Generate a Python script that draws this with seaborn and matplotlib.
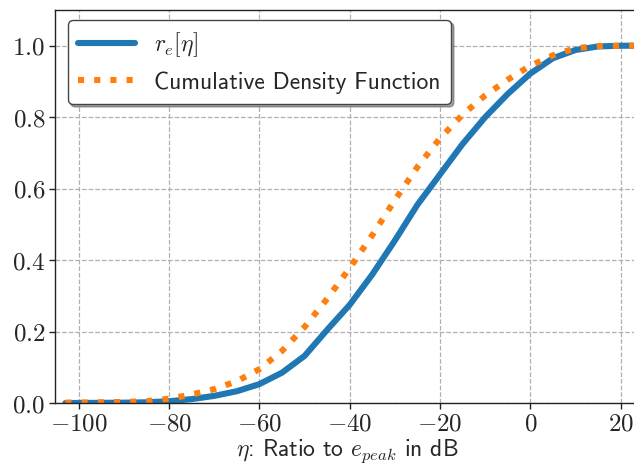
import matplotlib
matplotlib.use("Agg")
import matplotlib.pyplot as plt
from matplotlib.ticker import FuncFormatter
import pandas as pd
import seaborn as sns

# ratio to peak energy in dB
eta_db = [-103, -95, -90, -85, -80, -75, -70, -65, -60, -55, -50, -45, -40,
          -35, -30, -25, -20, -15, -10, -5, 0, 5, 10, 15, 20, 25]
# empirical r_e[eta]
r_e = [0.0, 0.0005, 0.001, 0.002, 0.005, 0.011, 0.02, 0.033, 0.053, 0.085,
       0.132, 0.205, 0.275, 0.36, 0.455, 0.555, 0.64, 0.725, 0.80, 0.865,
       0.922, 0.965, 0.988, 0.998, 1.0, 1.0]
# cumulative density function
cdf = [0.001, 0.002, 0.003, 0.005, 0.012, 0.024, 0.039, 0.061, 0.095, 0.146,
       0.213, 0.292, 0.378, 0.47, 0.568, 0.661, 0.741, 0.807, 0.861, 0.905,
       0.944, 0.973, 0.993, 0.999, 1.0, 1.0]

label_re = r"$r_e[\eta]$"
label_cdf = "Cumulative Density Function"

df = pd.DataFrame({"eta": eta_db, "r_e": r_e, "cdf": cdf})

sns.set_theme(style="whitegrid")
plt.rcParams["font.family"] = ["cmss10", "DejaVu Sans"]
plt.rcParams["mathtext.fontset"] = "cm"
plt.rcParams["axes.unicode_minus"] = True

fig = plt.figure(figsize=(6.34, 4.65), dpi=100)
ax = fig.add_axes([0.0868, 0.1333, 0.9205, 0.8452])

sns.lineplot(data=df, x="eta", y="r_e", ax=ax, color="#1f77b4",
             linewidth=4.4, label=label_re)
sns.lineplot(data=df, x="eta", y="cdf", ax=ax, color="#ff7f0e",
             linewidth=4.4, linestyle=":", label=label_cdf)

ax.set_xlim(-105.3, 24)
ax.set_ylim(0, 1.1)
ax.set_xticks([-100, -80, -60, -40, -20, 0, 20])
ax.set_yticks([0.0, 0.2, 0.4, 0.6, 0.8, 1.0])
# tick labels in Computer Modern, as in a LaTeX-rendered figure
ax.xaxis.set_major_formatter(FuncFormatter(lambda v, p: f"${v:g}$"))
ax.yaxis.set_major_formatter(FuncFormatter(lambda v, p: f"${v:.1f}$"))
ax.set_ylabel("")
ax.set_xlabel(r"$\eta$: Ratio to $e_{peak}$ in dB", fontsize=17, labelpad=1)

ax.set_facecolor("white")
ax.grid(True, color="#b0b0b0", linestyle="--", linewidth=0.9)
for side in ["left", "bottom", "top", "right"]:
    ax.spines[side].set_visible(True)
    ax.spines[side].set_color("#222222")
    ax.spines[side].set_linewidth(1.0)
ax.tick_params(axis="both", which="major", direction="out", length=4,
               width=1.0, color="#222222", labelsize=18, pad=3,
               bottom=True, left=True)

leg = ax.legend(loc="upper left", fontsize=17, fancybox=True, shadow=True,
                framealpha=1.0, handlelength=2.4, borderpad=0.45,
                borderaxespad=0, bbox_to_anchor=(0.022, 0.975))
leg.get_frame().set_edgecolor("#444444")

fig.savefig("out.png", dpi=100)
